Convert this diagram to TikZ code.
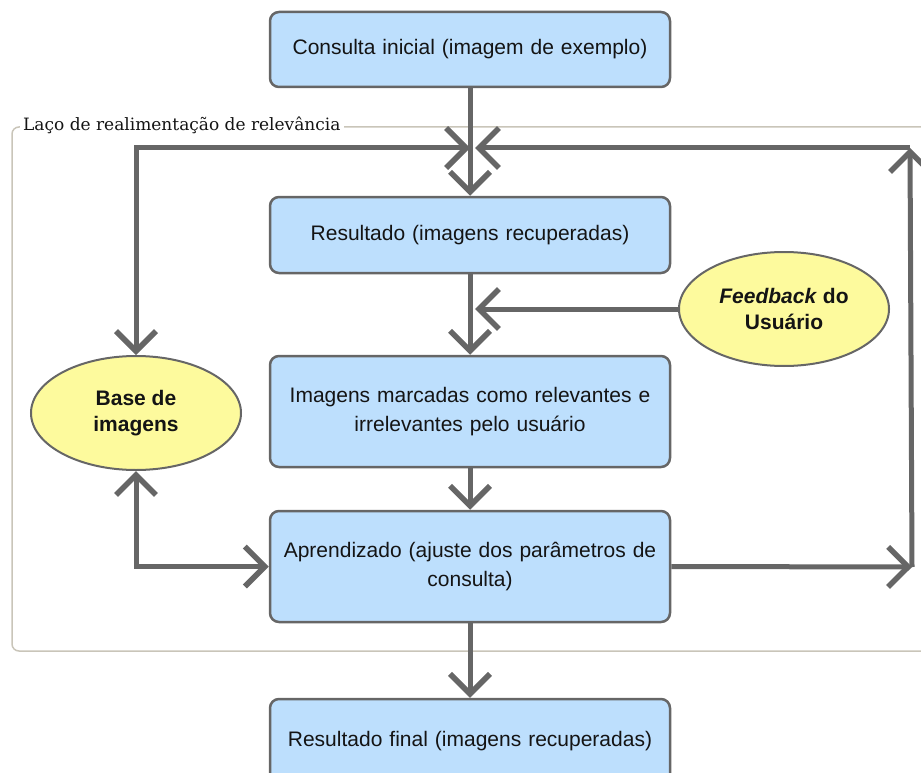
\documentclass[tikz,border=0pt]{standalone}
\usepackage{fontspec}
\setmainfont{Liberation Sans}
\newfontfamily\framelabelfont{DejaVu Serif}
\usetikzlibrary{arrows.meta,shapes.geometric}

\definecolor{boxfill}{HTML}{BDDFFD}
\definecolor{ellfill}{HTML}{FDFA9D}
\definecolor{wire}{HTML}{666666}
\definecolor{framec}{HTML}{C9C5B9}
\definecolor{txt}{HTML}{141414}

\begin{document}
\begin{tikzpicture}[x=1pt,y=-1pt,
  stepbox/.style={draw=wire, line width=2.5pt, fill=boxfill, rounded corners=9pt,
    minimum width=400pt, text width=385pt, align=center, inner sep=0pt,
    font=\fontsize{21}{29}\selectfont, text=txt},
  sourceell/.style={ellipse, draw=wire, line width=2pt, fill=ellfill,
    minimum width=210pt, minimum height=114pt, inner sep=0pt, align=center,
    font=\fontsize{21}{26}\selectfont\bfseries, text=txt},
  conn/.style={draw=wire, line width=5pt,
    arrows={-Straight Barb[length=20pt,width=40pt,line width=5.5pt]}},
  both/.style={arrows={Straight Barb[length=20pt,width=40pt,line width=5.5pt]-Straight Barb[length=20pt,width=40pt,line width=5.5pt]}},
  frameline/.style={draw=framec, line width=1.5pt, rounded corners=7pt}]

\clip (0,0) rectangle (921,773);
\useasboundingbox (0,0) rectangle (921,773);

% feedback loop frame and its title
\draw[frameline] (12,127) rectangle (960,651);
\node[anchor=west, fill=white, inner xsep=3pt, inner ysep=2pt, text=txt,
  font=\framelabelfont\fontsize{17}{20}\selectfont] (looptitle) at (20,125)
  {Laço de realimentação de relevância};

% process boxes
\node[stepbox, minimum height=75pt] (consulta) at (470,49.5)
  {Consulta inicial (imagem de exemplo)};
\node[stepbox, minimum height=76pt] (resultado) at (470,235)
  {Resultado (imagens recuperadas)};
\node[stepbox, minimum height=111pt] (marcadas) at (470,411.5)
  {Imagens marcadas como relevantes e\\irrelevantes pelo usuário};
\node[stepbox, minimum height=111pt] (aprend) at (470,566.5)
  {Aprendizado (ajuste dos parâmetros de\\consulta)};
\node[stepbox, minimum height=84pt] (final) at (470,741)
  {Resultado final (imagens recuperadas)};

% sources
\node[sourceell] (base) at (136,413) {Base de\\imagens};
\node[sourceell] (feedback) at (784,309) {\textit{Feedback} do\\Usuário};

% junction points of the loop
\coordinate (joinL) at (470,148);
\coordinate (joinR) at (475,148);
\coordinate (leftTop) at (136,148);
\coordinate (rightBot) at (912,567);
\coordinate (rightTop) at (910,148);
\coordinate (fbTip) at (475,309);

% connectors
\draw[conn] (consulta.south) -- (resultado.north);
\draw[conn, both] (base.north) -- (leftTop) -- (joinL);
\draw[conn] (resultado.south) -- (marcadas.north);
\draw[conn] (feedback.west) -- (fbTip);
\draw[conn] (marcadas.south) -- (aprend.north);
\draw[conn, both] (base.south) |- (aprend.west);
\draw[conn] (aprend.east) -- (rightBot);
\draw[conn] (rightBot) -- (rightTop);
\draw[conn] (rightTop) -- (joinR);
\draw[conn] (aprend.south) -- (final.north);
\end{tikzpicture}
\end{document}
